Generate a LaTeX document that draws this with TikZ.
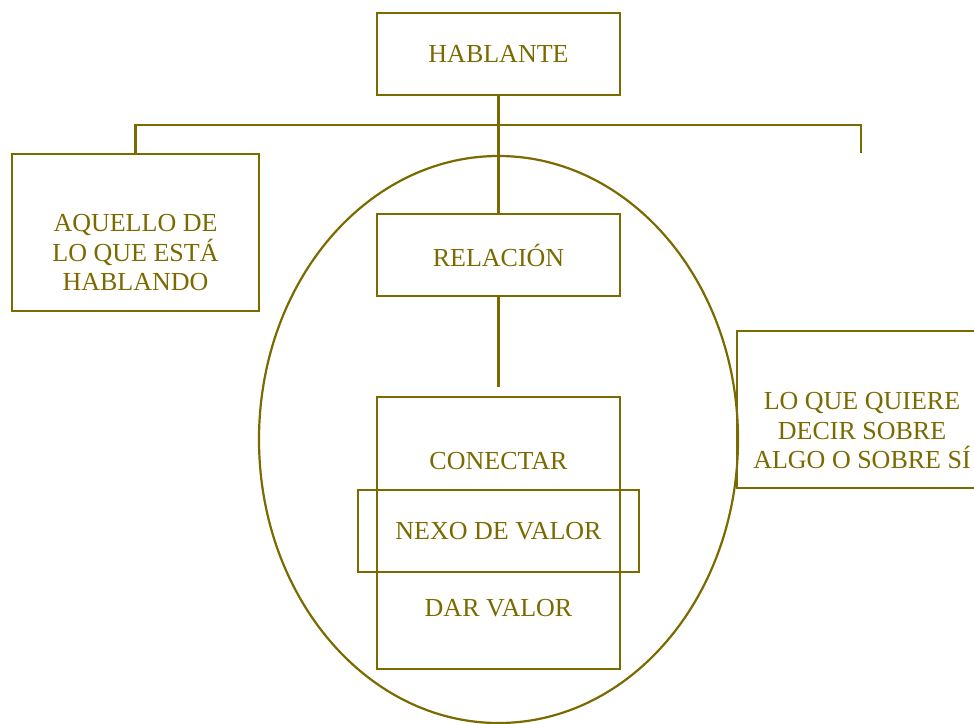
\documentclass[tikz,border=0pt]{standalone}
\usepackage{fontspec}
\setmainfont{Liberation Serif}
\definecolor{oliva}{RGB}{122,106,0}
\tikzset{
  caja/.style={draw=oliva, line width=2.8pt, rectangle, inner sep=0pt},
  texto/.style={text=oliva, align=center, font=\fontsize{26}{29.5}\selectfont},
  linea/.style={draw=oliva, line width=2.8pt}
}

\begin{document}
\begin{tikzpicture}[x=1pt,y=-1pt]
	\useasboundingbox (0,0) rectangle (974,723);
	\clip (0,0) rectangle (974,723);
	
	\draw[draw=oliva, line width=2.2pt] (498.5,439.5) ellipse [x radius=239.5, y radius=283.5];
	
	\node[caja, texto, minimum width=243pt, minimum height=82pt] (hablante) at (498.5,54) {HABLANTE};
	\node[caja, texto, minimum width=243pt, minimum height=82pt] (relacion) at (498.5,255) {RELACIÓN};
	
	\node[caja, minimum width=247pt, minimum height=157pt] (aquello) at (135.5,232.5) {};
	\node[texto] (aquellotxt) at (135.5,253) {AQUELLO DE\\LO QUE ESTÁ\\HABLANDO};
	
	\node[caja, minimum width=253pt, minimum height=157pt] (quiere) at (863.5,409.5) {};
	\node[texto] (quieretxt) at (862,431) {LO QUE QUIERE\\DECIR SOBRE\\ALGO O SOBRE SÍ};
	
	\node[caja, minimum width=243pt, minimum height=272pt] (valor) at (498.5,533) {};
	\node[texto] (conectar) at (498.5,461) {CONECTAR};
	\node[texto] (dar) at (498.5,608) {DAR VALOR};
	\node[caja, texto, minimum width=281pt, minimum height=82pt] (nexo) at (498.5,531) {NEXO DE VALOR};
	
	% ramas
	\coordinate (ramaizq) at (135.5,125);
	\coordinate (ramader) at (861,125);
	\coordinate (finder) at (861,153);
	\coordinate (finrel) at (498.5,387);
	\draw[linea] (hablante.south) -- (relacion.north);
	\draw[linea] (aquello.north) -- (ramaizq) -- (ramader) -- (finder);
	\draw[linea] (relacion.south) -- (finrel);
\end{tikzpicture}
\end{document}
